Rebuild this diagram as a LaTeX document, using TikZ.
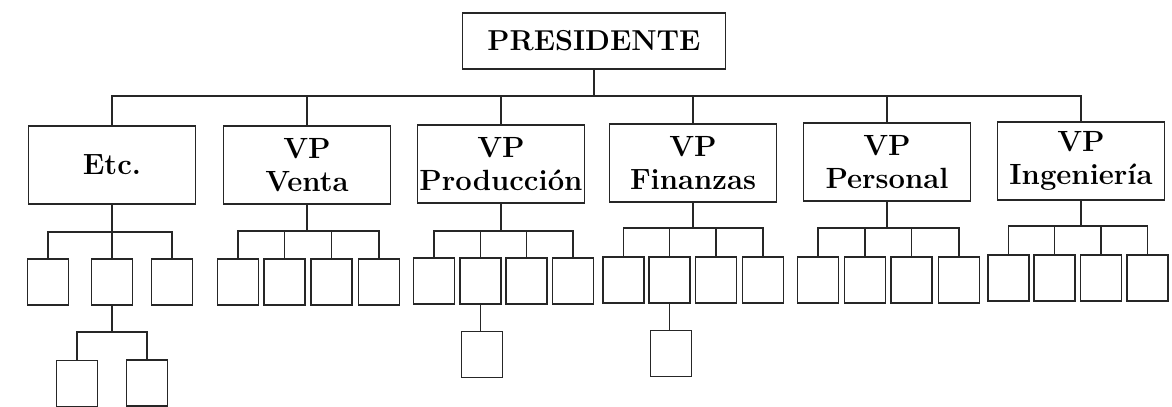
\documentclass[tikz,border=0pt]{standalone}
\usepackage{fontspec}
\begin{document}
\begin{tikzpicture}[x=0.025cm,y=-0.025cm,
  box/.style={draw=black!85, line width=0.9pt, inner sep=0pt, fill=white},
  topbox/.style={box, minimum width=263*0.025cm, minimum height=56*0.025cm, font=\fontsize{20.5}{23}\selectfont\bfseries},
  vpbox/.style={box, minimum width=167*0.025cm, minimum height=78*0.025cm, align=center, font=\fontsize{20.8}{23}\selectfont\bfseries},
  unitbox/.style={box, minimum width=41*0.025cm, minimum height=46*0.025cm},
  link/.style={draw=black!85, line width=1.2pt}]
\useasboundingbox (0,0) rectangle (1172,407);

% top
\node[topbox] (pres) at (594,41) {PRESIDENTE};

% level 2
\node[vpbox] (etc) at (112,165) {Etc.};
\node[vpbox] (ven) at (307,165) {VP\\Venta};
\node[vpbox] (pro) at (501,164) {VP\\Producción};
\node[vpbox] (fin) at (693,163) {VP\\Finanzas};
\node[vpbox] (per) at (887,162) {VP\\Personal};
\node[vpbox] (ing) at (1081,161) {VP\\Ingeniería};

% level 3
\node[unitbox] (e1) at (48,282) {};
\node[unitbox] (e2) at (112,282) {};
\node[unitbox] (e3) at (172,282) {};

\node[unitbox] (v1) at (238,282) {};
\node[unitbox] (v2) at (284.5,282) {};
\node[unitbox] (v3) at (331.5,282) {};
\node[unitbox] (v4) at (379,282) {};

\node[unitbox] (p1) at (434,281) {};
\node[unitbox] (p2) at (480.5,281) {};
\node[unitbox] (p3) at (526.5,281) {};
\node[unitbox] (p4) at (573,281) {};

\node[unitbox] (f1) at (623.5,280) {};
\node[unitbox] (f2) at (669.5,280) {};
\node[unitbox] (f3) at (716,280) {};
\node[unitbox] (f4) at (763,280) {};

\node[unitbox] (r1) at (818,280) {};
\node[unitbox] (r2) at (865,280) {};
\node[unitbox] (r3) at (911.5,280) {};
\node[unitbox] (r4) at (959,280) {};

\node[unitbox] (i1) at (1008.5,278) {};
\node[unitbox] (i2) at (1054.5,278) {};
\node[unitbox] (i3) at (1101,278) {};
\node[unitbox] (i4) at (1147.5,278) {};

% level 4
\node[unitbox] (ea) at (77,383.5) {};
\node[unitbox] (eb) at (147,383) {};
\node[unitbox] (pc) at (482,354.5) {};
\node[unitbox] (fc) at (671,353.5) {};

% connectors: president
\coordinate (tb) at (0,96);
\draw[link] (pres.south) -- (pres.south |- tb);
\draw[link] (etc.north) -- (etc.north |- tb) -- (ing.north |- tb) -- (ing.north);
\foreach \n in {ven,pro,fin,per} \draw[link] (\n.north) -- (\n.north |- tb);

% Etc group
\coordinate (etcb) at (0,232);
\draw[link] (etc.south) -- (etc.south |- etcb);
\draw[link] (e1.north) -- (e1.north |- etcb) -- (e3.north |- etcb) -- (e3.north);
\draw[link] (e2.north) -- (e2.north |- etcb);
\coordinate (e2b) at (0,332);
\draw[link] (e2.south) -- (e2.south |- e2b);
\draw[link] (ea.north) -- (ea.north |- e2b) -- (eb.north |- e2b) -- (eb.north);

% Venta group
\coordinate (venb) at (0,231);
\draw[link] (ven.south) -- (ven.south |- venb);
\draw[link] (v1.north) -- (v1.north |- venb) -- (v4.north |- venb) -- (v4.north);
\foreach \n in {v2,v3} \draw[link] (\n.north) -- (\n.north |- venb);

% Produccion group
\coordinate (prob) at (0,231);
\draw[link] (pro.south) -- (pro.south |- prob);
\draw[link] (p1.north) -- (p1.north |- prob) -- (p4.north |- prob) -- (p4.north);
\foreach \n in {p2,p3} \draw[link] (\n.north) -- (\n.north |- prob);
\draw[link] (p2.south) -- (p2.south |- pc.north);

% Finanzas group
\coordinate (finb) at (0,228);
\draw[link] (fin.south) -- (fin.south |- finb);
\draw[link] (f1.north) -- (f1.north |- finb) -- (f4.north |- finb) -- (f4.north);
\foreach \n in {f2,f3} \draw[link] (\n.north) -- (\n.north |- finb);
\draw[link] (f2.south) -- (f2.south |- fc.north);

% Personal group
\coordinate (perb) at (0,228);
\draw[link] (per.south) -- (per.south |- perb);
\draw[link] (r1.north) -- (r1.north |- perb) -- (r4.north |- perb) -- (r4.north);
\foreach \n in {r2,r3} \draw[link] (\n.north) -- (\n.north |- perb);

% Ingenieria group
\coordinate (ingb) at (0,226);
\draw[link] (ing.south) -- (ing.south |- ingb);
\draw[link] (i1.north) -- (i1.north |- ingb) -- (i4.north |- ingb) -- (i4.north);
\foreach \n in {i2,i3} \draw[link] (\n.north) -- (\n.north |- ingb);
\end{tikzpicture}
\end{document}
